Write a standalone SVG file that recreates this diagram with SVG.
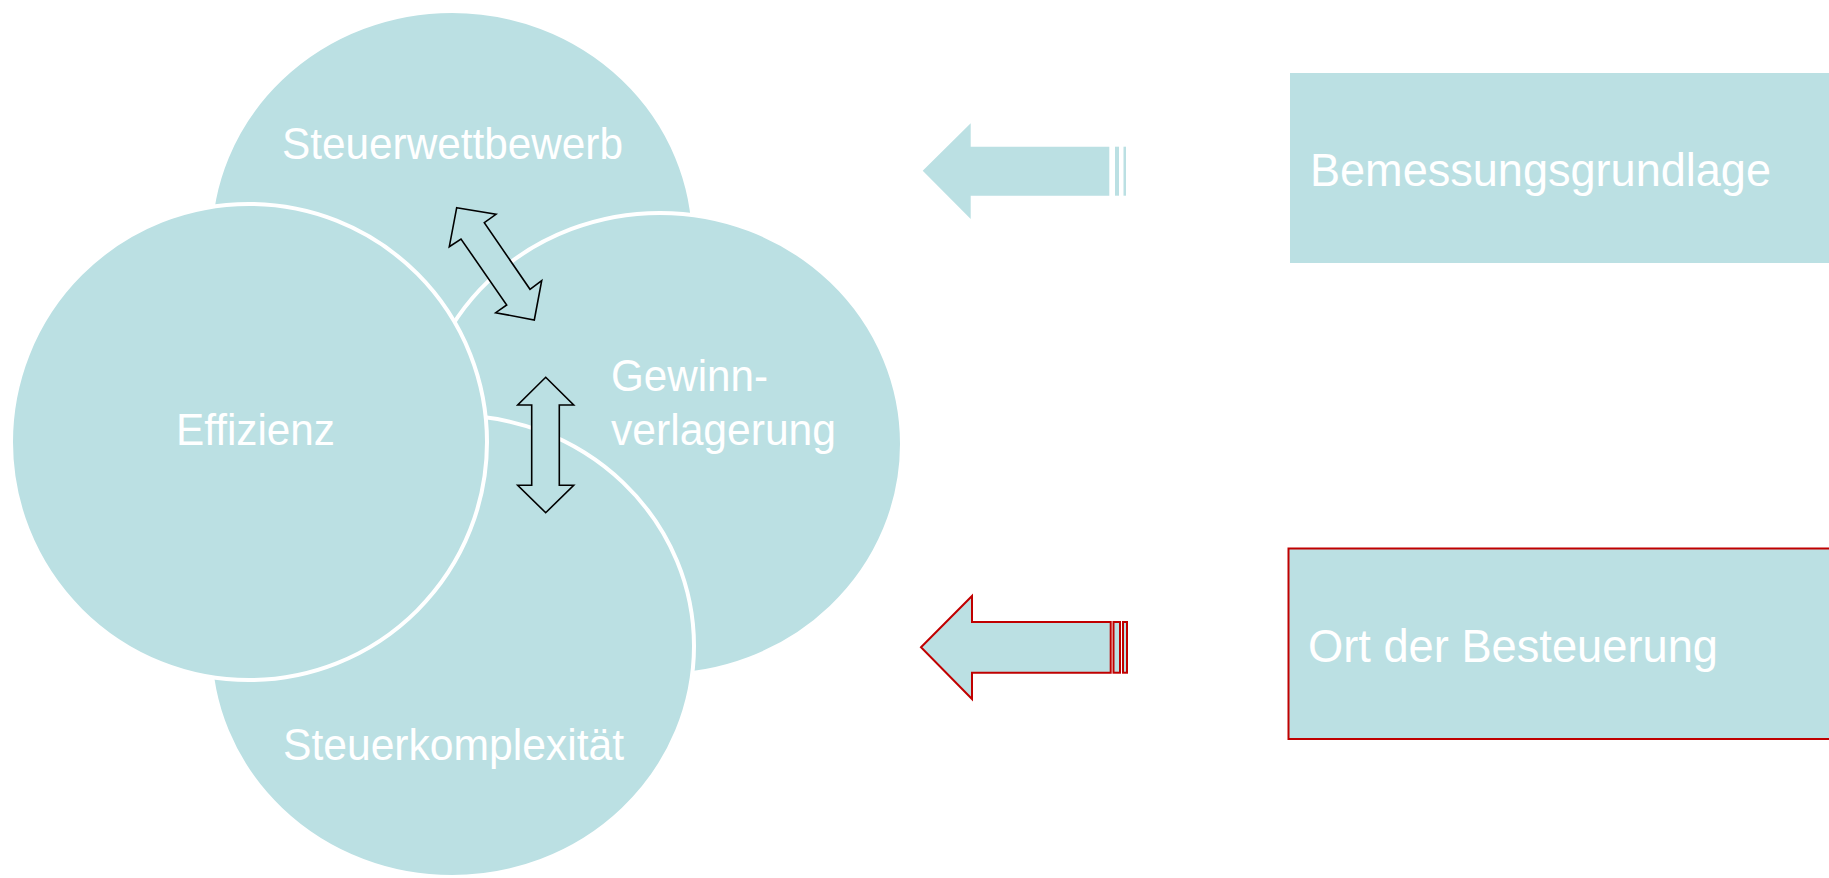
<svg xmlns="http://www.w3.org/2000/svg" width="1829" height="878" viewBox="0 0 1829 878">
<style>
.c{fill:#BBE0E3;stroke:#FFFFFF;stroke-width:4}
.t{fill:#FFFFFF;font-family:"Liberation Sans",Arial,sans-serif;font-size:44px}
.bt{fill:#FFFFFF;font-family:"Liberation Sans",Arial,sans-serif;font-size:47px}
.da{fill:#BBE0E3;stroke:#000000;stroke-width:1.6;stroke-linejoin:miter}
.ba{fill:#BBE0E3}
.br{fill:#BBE0E3;stroke:#C00000;stroke-width:2}
</style>
<rect x="0" y="0" width="1829" height="878" fill="#FFFFFF"/>
<g id="node-steuerwettbewerb">
<ellipse class="c" cx="452" cy="242" rx="242" ry="231"/>
</g>
<g id="node-gewinnverlagerung">
<ellipse class="c" cx="660" cy="444" rx="242" ry="231"/>
</g>
<g id="node-steuerkomplexitaet">
<ellipse class="c" cx="452" cy="646" rx="242" ry="231"/>
</g>
<g id="node-effizienz">
<circle class="c" cx="249" cy="442" r="238"/>
</g>
<g id="labels">
<text class="t" x="282" y="158.5" textLength="341" lengthAdjust="spacingAndGlyphs">Steuerwettbewerb</text>
<text class="t" x="176" y="444.5" textLength="159" lengthAdjust="spacingAndGlyphs">Effizienz</text>
<text class="t" x="611" y="390.5" textLength="157" lengthAdjust="spacingAndGlyphs">Gewinn-</text>
<text class="t" x="611" y="444.5" textLength="225" lengthAdjust="spacingAndGlyphs">verlagerung</text>
<text class="t" x="283" y="760" textLength="341" lengthAdjust="spacingAndGlyphs">Steuerkomplexität</text>
</g>
<g id="node-bemessungsgrundlage">
<rect x="1290" y="73" width="545" height="190" fill="#BBE0E3"/>
<text class="bt" x="1310" y="186" textLength="461" lengthAdjust="spacingAndGlyphs">Bemessungsgrundlage</text>
</g>
<g id="node-ort">
<rect x="1288.5" y="548.5" width="545" height="190.5" fill="#BBE0E3" stroke="#C00000" stroke-width="2"/>
<text class="bt" x="1308" y="662" textLength="410" lengthAdjust="spacingAndGlyphs">Ort der Besteuerung</text>
</g>
<g id="connectors">
<polygon class="da" points="456.7,207.7 496,214.3 484.3,222.7 530,289.3 541.7,280.7 534.3,320 495.7,312.7 506.7,305 461,239 449.3,246.7"/>
<polygon class="da" points="545.7,377.3 573.7,405 559.3,405 559.3,485.3 573.7,485.3 545.7,512.7 517.7,485.3 531.7,485.3 531.7,405 517.7,405"/>
<polygon class="ba" points="922.7,170.7 970.7,123.3 970.7,146.7 1109.3,146.7 1109.3,195.7 970.7,195.7 970.7,219"/>
<rect class="ba" x="1115" y="146.7" width="4" height="49"/>
<rect class="ba" x="1123.5" y="146.7" width="2.5" height="49"/>
<polygon class="br" points="921,647.3 972,596 972,622 1110.7,622 1110.7,672.7 972,672.7 972,699"/>
<rect class="br" x="1113.5" y="622" width="6.5" height="50.7"/>
<rect class="br" x="1123" y="622" width="4" height="50.7"/>
</g>
</svg>
